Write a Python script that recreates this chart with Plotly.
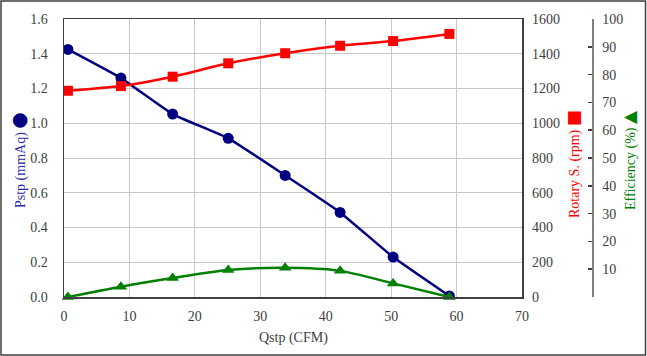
import plotly.graph_objects as go

qstp = [0.6, 8.7, 16.6, 25.1, 33.8, 42.2, 50.3, 58.9]
pstp = [1.425, 1.26, 1.053, 0.913, 0.70, 0.487, 0.23, 0.006]
rotary = [1187, 1214, 1268, 1345, 1403, 1446, 1473, 1514]
efficiency = [0.0, 3.7, 6.8, 9.7, 10.5, 9.4, 4.9, 0.0]

x_ticks = [0, 10, 20, 30, 40, 50, 60, 70]
eff_ticks = [0, 10, 20, 30, 40, 50, 60, 70, 80, 90, 100]
eff_ticktext = [""] + [str(v) for v in eff_ticks[1:]]

W, H = 647, 356
L, R, T, B = 64, 10, 19, 59
pw = W - L - R
ph = H - T - B
x_end = (522 - L) / pw
eff_pos = (592 - L) / pw

FONT = "Liberation Serif, Times New Roman, serif"
TICKC = "#404040"
TF = dict(family=FONT, size=14, color=TICKC)

fig = go.Figure()
fig.add_trace(go.Scatter(x=qstp, y=pstp, mode="lines+markers",
                         line=dict(color="#000080", width=2.5, shape="spline", smoothing=0.4),
                         marker=dict(symbol="circle", size=11, color="#000080"),
                         xaxis="x", yaxis="y", showlegend=False))
fig.add_trace(go.Scatter(x=qstp, y=rotary, mode="lines+markers",
                         line=dict(color="#FF0000", width=2.5, shape="spline", smoothing=0.6),
                         marker=dict(symbol="square", size=10, color="#FF0000"),
                         xaxis="x", yaxis="y2", showlegend=False))
fig.add_trace(go.Scatter(x=qstp, y=efficiency, mode="lines+markers",
                         line=dict(color="#008000", width=2.5, shape="spline", smoothing=0.8),
                         marker=dict(symbol="triangle-up", size=11, color="#008000"),
                         xaxis="x", yaxis="y3", showlegend=False, cliponaxis=False))

fig.update_layout(
    width=W, height=H,
    margin=dict(l=L, r=R, t=T, b=B, autoexpand=False),
    paper_bgcolor="white", plot_bgcolor="white",
    font=TF,
    xaxis=dict(domain=[0, x_end], range=[0, 70], tickvals=x_ticks, automargin=False,
               showgrid=True, gridcolor="#c8c8c8", gridwidth=1,
               showline=True, linecolor="#404040", linewidth=1.5, mirror=True,
               ticks="", ticklabelstandoff=6, zeroline=False, tickfont=TF),
    yaxis=dict(range=[0, 1.6], tickvals=[0, 0.2, 0.4, 0.6, 0.8, 1.0, 1.2, 1.4, 1.6],
               tickformat=".1f", automargin=False,
               showgrid=True, gridcolor="#c8c8c8", gridwidth=1,
               showline=True, linecolor="#404040", linewidth=1.5, mirror=True,
               ticks="", ticklabelstandoff=12, zeroline=False, tickfont=TF),
    yaxis2=dict(range=[0, 1600], tickvals=[0, 200, 400, 600, 800, 1000, 1200, 1400, 1600],
                overlaying="y", side="right", anchor="x", automargin=False,
                showgrid=False, showline=False, ticks="", ticklabelstandoff=9,
                zeroline=False, tickfont=TF),
    yaxis3=dict(range=[0, 100], tickvals=eff_ticks, ticktext=eff_ticktext,
                overlaying="y", side="right", anchor="free", position=eff_pos,
                automargin=False,
                showgrid=False, showline=True, linecolor="#808080", linewidth=1.5,
                ticks="inside", ticklen=4, tickcolor="#404040", tickwidth=1.5,
                ticklabelstandoff=6, zeroline=False, tickfont=TF),
)

def px_x(px):
    return (px - L) / pw

def px_y(py):
    return (H - B - py) / ph

annotations = [
    dict(text="Qstp (CFM)", x=px_x(293), y=px_y(338), xref="paper", yref="paper",
         showarrow=False, font=dict(family=FONT, size=14, color="#404040"),
         xanchor="center", yanchor="middle"),
    dict(text="Pstp (mmAq) <span style='font-family:DejaVu Sans;font-size:19px;color:#000080'>●</span>",
         x=px_x(18), y=px_y(160), xref="paper", yref="paper", textangle=-90,
         showarrow=False, font=dict(family=FONT, size=14, color="#2b2bb0"),
         xanchor="center", yanchor="middle"),
    dict(text="Rotary S. (rpm) <span style='font-family:DejaVu Sans;font-size:17px;color:#FF0000'>■</span>",
         x=px_x(573), y=px_y(164), xref="paper", yref="paper", textangle=-90,
         showarrow=False, font=dict(family=FONT, size=14, color="#FF0000"),
         xanchor="center", yanchor="middle"),
    dict(text="Efficiency (%) <span style='font-family:DejaVu Sans;font-size:17px;color:#008000'>▲</span>",
         x=px_x(629), y=px_y(160), xref="paper", yref="paper", textangle=-90,
         showarrow=False, font=dict(family=FONT, size=14, color="#008000"),
         xanchor="center", yanchor="middle"),
]
fig.update_layout(annotations=annotations)

fig.add_shape(type="rect", xref="paper", yref="paper",
              x0=px_x(1), x1=px_x(645.5), y0=px_y(355), y1=px_y(1),
              line=dict(color="#404040", width=1.5), fillcolor="rgba(0,0,0,0)",
              layer="above")

fig.write_html("out.html", config={"displayModeBar": False, "staticPlot": True})

with open("out.html", "r", encoding="utf-8") as f:
    html = f.read()
html = html.replace("<head>", "<head><style>html,body{margin:0;padding:0;overflow:hidden;}</style>", 1)
with open("out.html", "w", encoding="utf-8") as f:
    f.write(html)
